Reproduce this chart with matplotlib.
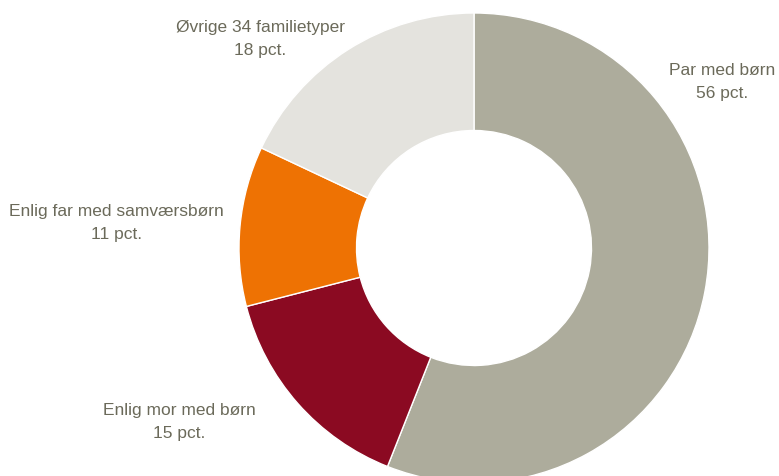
import matplotlib.pyplot as plt

# Data
labels = ['Par med børn', 'Enlig mor med børn', 'Enlig far med samværsbørn', 'Øvrige 34 familietyper']
shares = [56, 15, 11, 18]
colors = ['#adac9c', '#8b0a22', '#ee7203', '#e4e3de']

plt.rcParams['font.family'] = ['Liberation Sans', 'DejaVu Sans']

fig = plt.figure(figsize=(7.79, 4.77), dpi=100)
W, H = 779, 477
cx, cy, r = 474, 249, 235
ax = fig.add_axes([(cx - r) / W, (H - cy - r) / H, 2 * r / W, 2 * r / H])

ax.pie(shares, colors=colors, startangle=90, counterclock=False, radius=1.0,
       wedgeprops=dict(width=0.5, edgecolor='white', linewidth=1))
ax.set_xlim(-1, 1)
ax.set_ylim(-1, 1)
ax.set_aspect('equal')
ax.axis('off')

# label positions (data units)
label_pos = [(1.055, 0.71), (-1.255, -0.735), (-1.52, 0.111), (-0.91, 0.894)]
for lab, val, (x, y) in zip(labels, shares, label_pos):
    ax.text(x, y, f'{lab}\n{val} pct.', ha='center', va='center', fontsize=12.5,
            color='#6b6a5a', linespacing=1.7, clip_on=False)

fig.savefig('out.png', dpi=100)
